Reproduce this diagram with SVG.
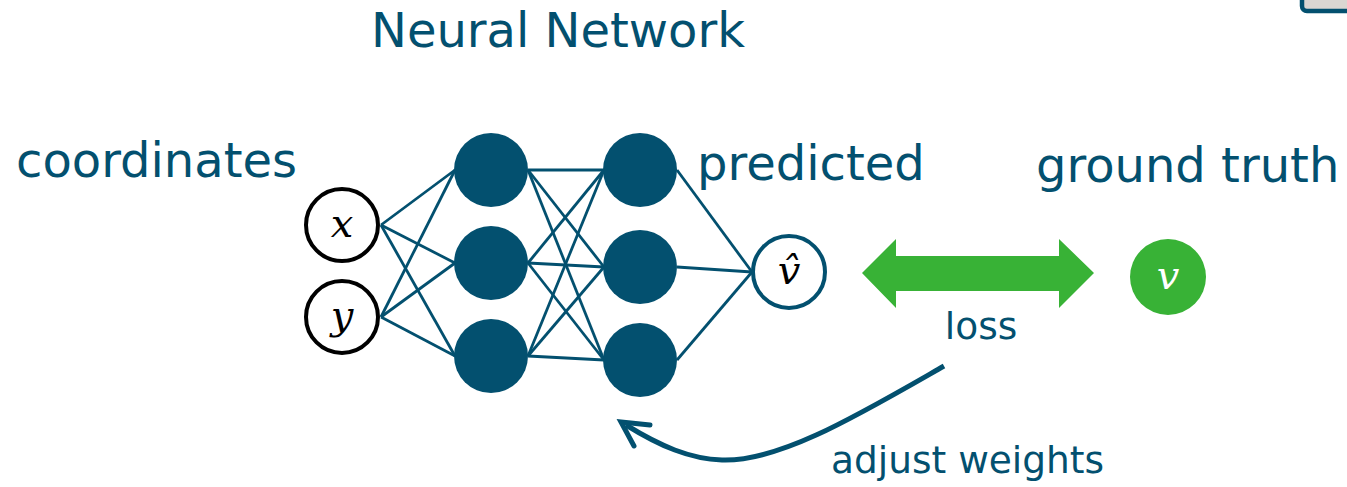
<svg xmlns="http://www.w3.org/2000/svg" width="1347" height="487" viewBox="0 0 1347 487">
<style>
.t{font-family:"DejaVu Sans",Verdana,sans-serif;fill:#03506F}
.big{font-size:48px}
.small{font-size:37.5px}
.m{font-family:"DejaVu Serif","Liberation Serif",serif;font-style:italic;font-size:40px}
.hid{fill:#03506F}
.c line{stroke:#03506F;stroke-width:2.8}
</style>
<rect x="1302" y="-20" width="80" height="31" rx="5" fill="#DAD6D2" stroke="#03506F" stroke-width="4.5"/>
<text class="t big" x="371" y="47">Neural Network</text>
<text class="t big" x="16" y="177">coordinates</text>
<text class="t big" x="697" y="180">predicted</text>
<text class="t big" x="1036" y="182">ground truth</text>
<text class="t small" x="981" y="339" text-anchor="middle">loss</text>
<text class="t small" x="831" y="473">adjust weights</text>
<g class="c" id="connectors">
<line x1="381" y1="225" x2="455" y2="170"/>
<line x1="381" y1="225" x2="455" y2="263"/>
<line x1="381" y1="225" x2="455" y2="356"/>
<line x1="381" y1="317" x2="455" y2="170"/>
<line x1="381" y1="317" x2="455" y2="263"/>
<line x1="381" y1="317" x2="455" y2="356"/>
<line x1="528" y1="170" x2="604" y2="170"/>
<line x1="528" y1="170" x2="604" y2="267"/>
<line x1="528" y1="170" x2="604" y2="360"/>
<line x1="528" y1="263" x2="604" y2="170"/>
<line x1="528" y1="263" x2="604" y2="267"/>
<line x1="528" y1="263" x2="604" y2="360"/>
<line x1="528" y1="356" x2="604" y2="170"/>
<line x1="528" y1="356" x2="604" y2="267"/>
<line x1="528" y1="356" x2="604" y2="360"/>
<line x1="677" y1="170" x2="752" y2="272"/>
<line x1="677" y1="267" x2="752" y2="272"/>
<line x1="677" y1="360" x2="752" y2="272"/>
<path d="M944,366 C860,414 780,462 722,460 C690,459 660,446 626,425" fill="none" stroke="#03506F" stroke-width="5"/>
<path d="M650,425 L621,422 L634,446" fill="none" stroke="#03506F" stroke-width="5" stroke-linecap="round" stroke-linejoin="miter"/>
<polygon points="862,273 896,239 896,256 1059,256 1059,239 1094,273 1059,308 1059,291 896,291 896,308" fill="#38B236"/>
</g>
<g id="in-x"><circle cx="342" cy="225" r="36" fill="#fff" stroke="#000" stroke-width="4"/><text class="m" x="342" y="237" text-anchor="middle">x</text></g>
<g id="in-y"><circle cx="342" cy="317" r="36" fill="#fff" stroke="#000" stroke-width="4"/><text class="m" x="342" y="329" text-anchor="middle">y</text></g>
<g id="h1a"><circle class="hid" cx="491" cy="170" r="37"/></g>
<g id="h1b"><circle class="hid" cx="491" cy="263" r="37"/></g>
<g id="h1c"><circle class="hid" cx="491" cy="356" r="37"/></g>
<g id="h2a"><circle class="hid" cx="640" cy="170" r="37"/></g>
<g id="h2b"><circle class="hid" cx="640" cy="267" r="37"/></g>
<g id="h2c"><circle class="hid" cx="640" cy="360" r="37"/></g>
<g id="out"><circle cx="789" cy="272" r="36" fill="#fff" stroke="#03506F" stroke-width="4"/><text class="m" x="789" y="284" text-anchor="middle">v̂</text></g>
<g id="truth"><circle cx="1168" cy="277" r="38" fill="#38B236"/><text class="m" x="1168" y="289" text-anchor="middle" fill="#fff">v</text></g>
</svg>
